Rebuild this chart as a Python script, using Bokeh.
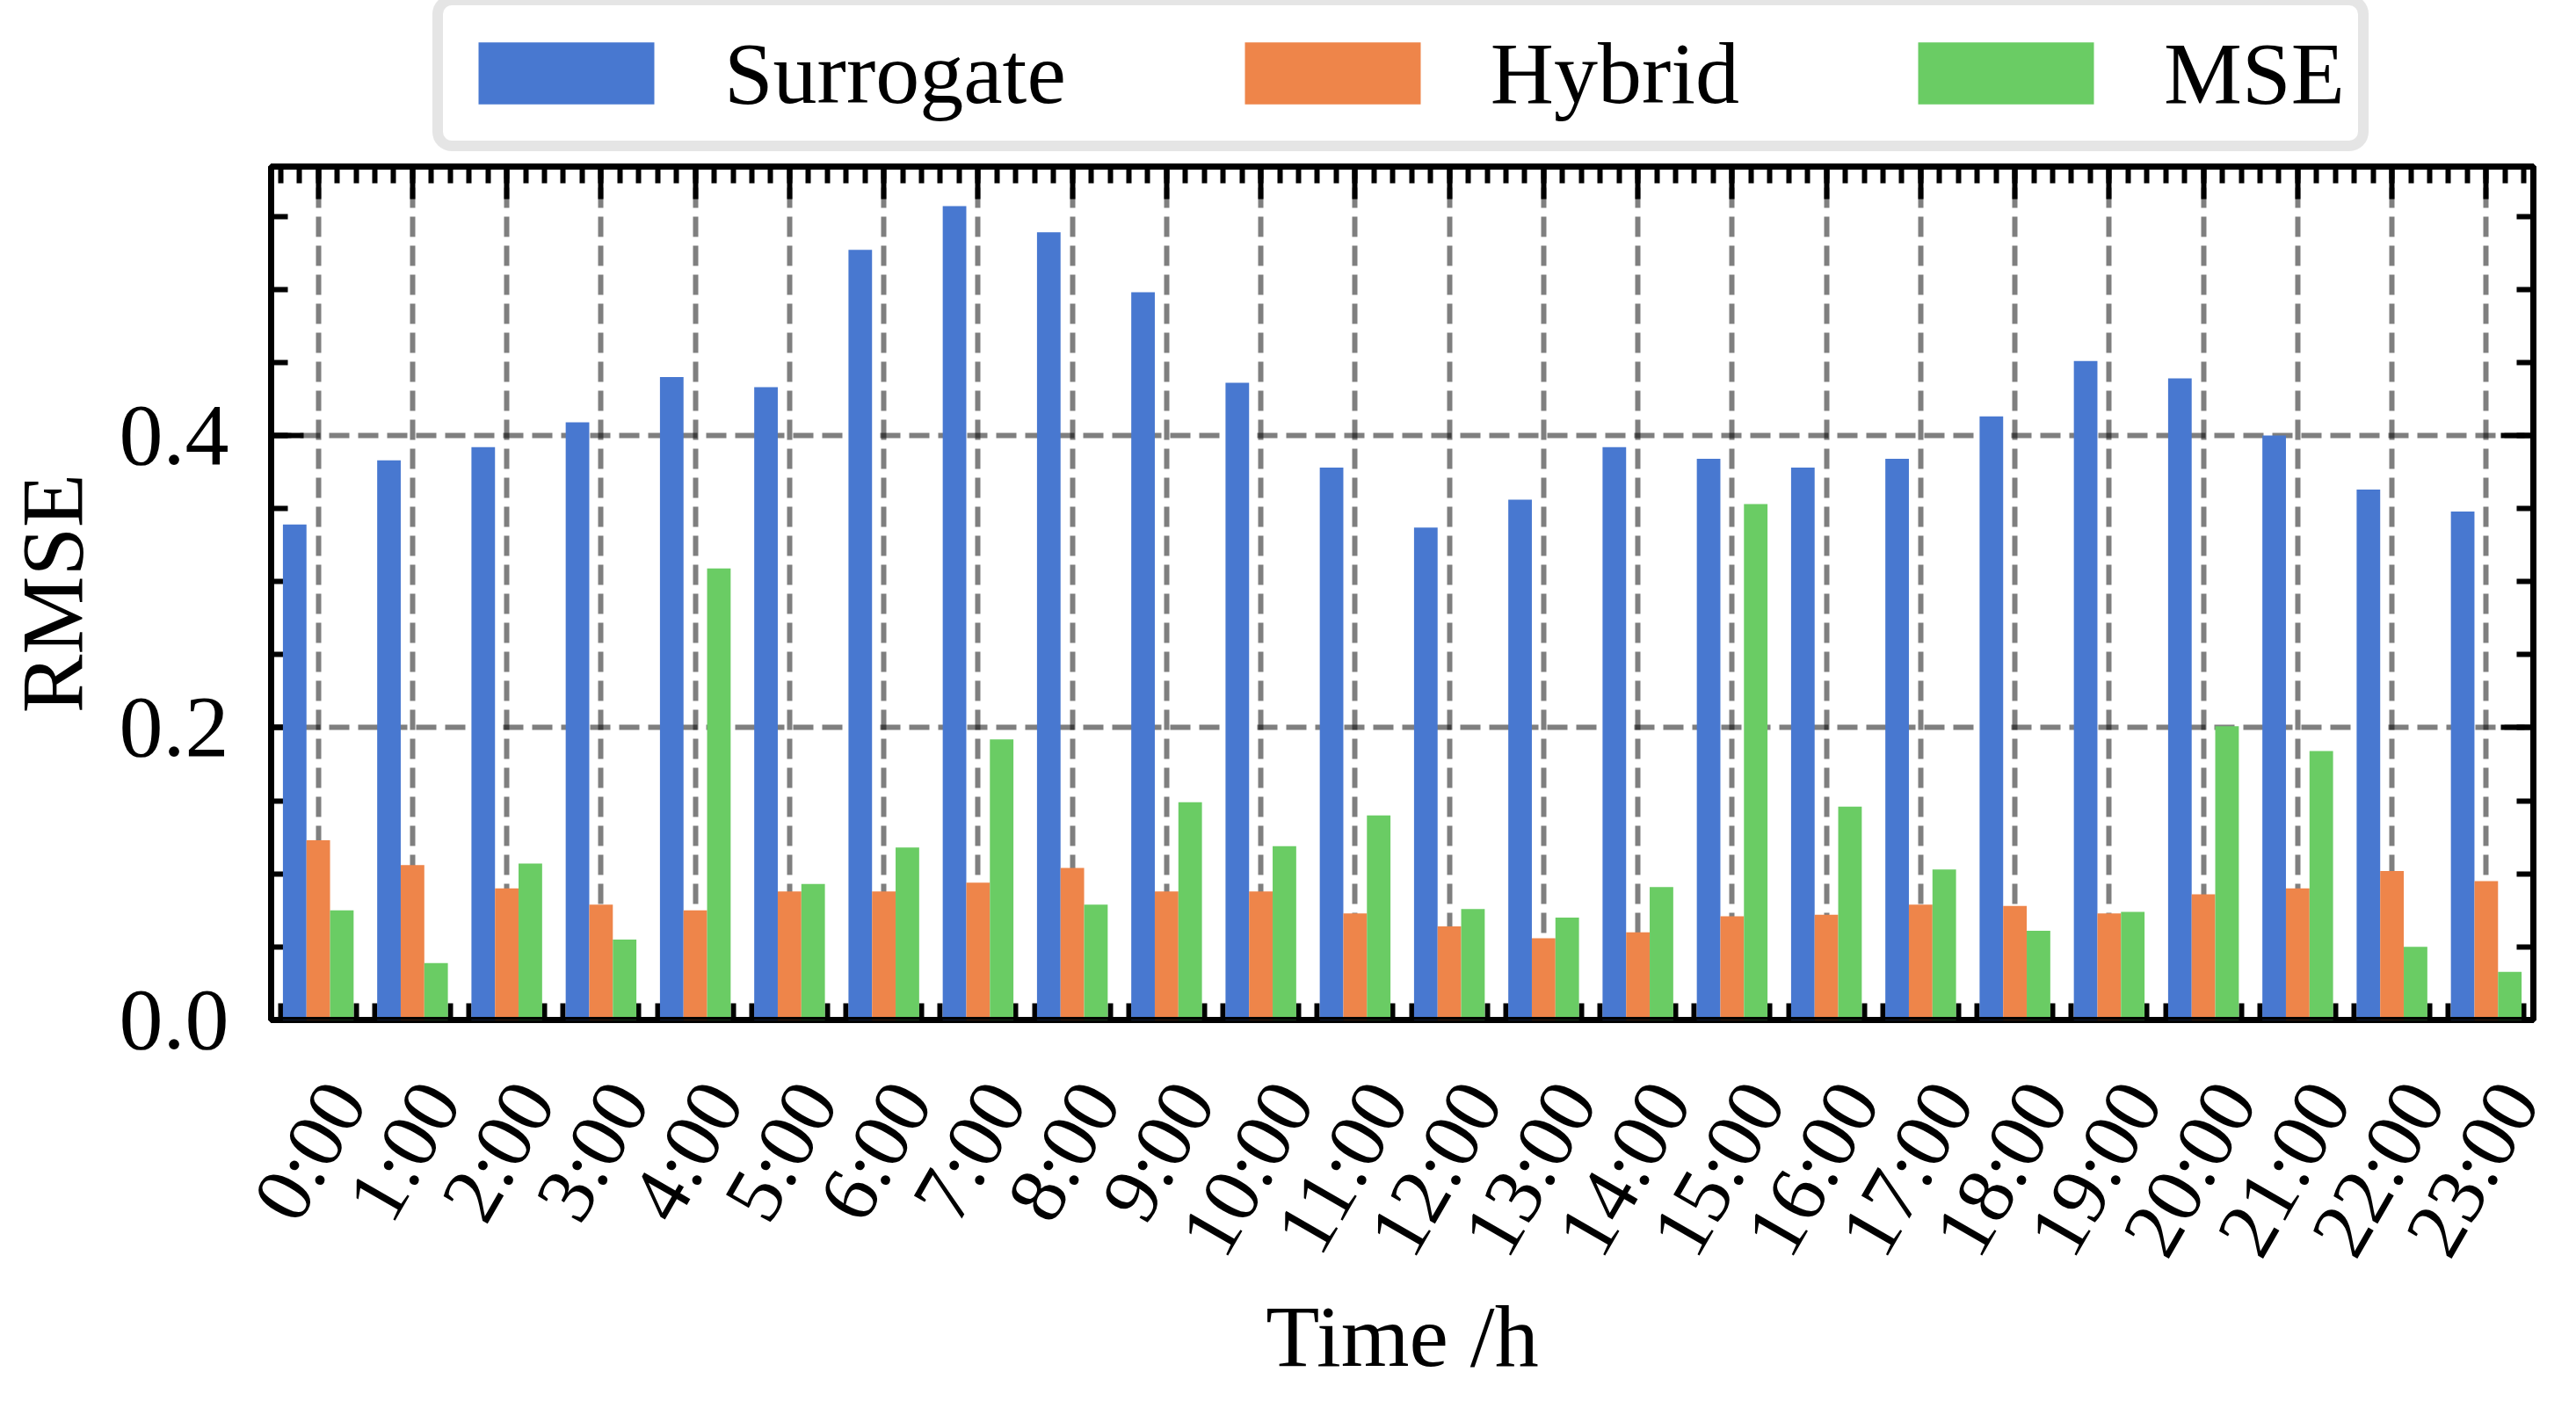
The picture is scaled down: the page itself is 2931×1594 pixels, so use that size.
import math
from bokeh.plotting import figure
from bokeh.layouts import column
from bokeh.models import (Range1d, FixedTicker, LinearAxis, Legend, LegendItem,
                          ColumnDataSource, CustomJSTickFormatter, Span)
from bokeh.transform import dodge
from bokeh.embed import file_html
from bokeh.resources import INLINE

# ---------------- data ----------------
hours = [f"{h}:00" for h in range(24)]
surrogate = [0.339, 0.383, 0.392, 0.409, 0.440, 0.433, 0.527, 0.557, 0.539, 0.498,
             0.436, 0.378, 0.337, 0.356, 0.392, 0.384, 0.378, 0.384, 0.413, 0.451,
             0.439, 0.400, 0.363, 0.348]
hybrid = [0.123, 0.106, 0.090, 0.079, 0.075, 0.088, 0.088, 0.094, 0.104, 0.088,
          0.088, 0.073, 0.064, 0.056, 0.060, 0.071, 0.072, 0.079, 0.078, 0.073,
          0.086, 0.090, 0.102, 0.095]
mse = [0.075, 0.039, 0.107, 0.055, 0.309, 0.093, 0.118, 0.192, 0.079, 0.149,
       0.119, 0.140, 0.076, 0.070, 0.091, 0.353, 0.146, 0.103, 0.061, 0.074,
       0.201, 0.184, 0.050, 0.033]
series_names = ["Surrogate", "Hybrid", "MSE"]
y_ticks = [0, 0.2, 0.4]
y_tick_labels = ["0.0", "0.2", "0.4"]

# ---------------- style ----------------
FONT = "Liberation Serif"
COLORS = ["#4878D0", "#EE854A", "#6ACC64"]
BAR_W = 0.25
GRID_KW = dict(grid_line_color="black", grid_line_alpha=0.5, grid_line_width=6,
               grid_line_dash="23 10")
TOTAL_W, TOTAL_H, LEGEND_H = 2915, 1578, 180
FIELDS = ["s", "h", "m"]
OFFSETS = [-BAR_W, 0.0, BAR_W]

x = list(range(24))
src = ColumnDataSource(dict(x=x, s=surrogate, h=hybrid, m=mse))

p = figure(width=TOTAL_W, height=TOTAL_H - LEGEND_H,
           x_range=Range1d(-0.5, 23.5), y_range=Range1d(0, 0.584),
           output_backend="svg", toolbar_location=None,
           min_border_left=302, min_border_right=33,
           min_border_top=9, min_border_bottom=416)
p.background_fill_color = "white"
p.border_fill_color = "white"
p.outline_line_color = "black"
p.outline_line_width = 7

for field, off, col in zip(FIELDS, OFFSETS, COLORS):
    p.vbar(x=dodge("x", off), top=field, width=BAR_W, source=src,
           fill_color=col, line_color=None, level="annotation")

# bottom spine drawn above the bars (as in the reference)
p.add_layout(Span(location=0, dimension="width", line_color="black",
                  line_width=7, level="overlay"))

minor_x = [round(-0.4 + 0.2 * k, 1) for k in range(120)]
minor_x = [v for v in minor_x if -0.5 < v < 23.5]
minor_y = [round(0.05 * k, 2) for k in range(1, 12)]

def style_axis(ax, major_in, minor_in):
    ax.axis_line_width = 7
    ax.major_tick_in = major_in
    ax.major_tick_out = 0
    ax.minor_tick_in = minor_in
    ax.minor_tick_out = 0
    ax.major_tick_line_width = 6
    ax.minor_tick_line_width = 6
    ax.major_label_text_color = "black"
    ax.axis_label_text_color = "black"

# bottom axis: rotated labels anchored a little right of each hour so that the
# rotated text is centred on the hour like the reference; ticks are minor ticks
xb = p.below[0]
label_pos = [round(i + (0.29 if len(lab) == 4 else 0.34), 2) for i, lab in zip(x, hours)]
xb.ticker = FixedTicker(ticks=label_pos, minor_ticks=minor_x + x)
xb.major_label_overrides = {pos: lab for pos, lab in zip(label_pos, hours)}
style_axis(xb, 0, 19)
xb.major_tick_line_color = None
xb.major_label_orientation = math.pi / 3
xb.major_label_standoff = 78
xb.major_label_text_font = FONT
xb.major_label_text_font_size = "92px"
xb.axis_label = "Time /h"
xb.axis_label_text_font = FONT
xb.axis_label_text_font_size = "100px"
xb.axis_label_text_font_style = "normal"
xb.axis_label_standoff = -9

# left axis
yl = p.left[0]
yl.ticker = FixedTicker(ticks=y_ticks, minor_ticks=minor_y)
yl.major_label_overrides = {t: lab for t, lab in zip(y_ticks, y_tick_labels)}
style_axis(yl, 37, 19)
yl.major_label_standoff = 48
yl.major_label_text_font = FONT
yl.major_label_text_font_size = "100px"
yl.axis_label = "RMSE"
yl.axis_label_text_font = FONT
yl.axis_label_text_font_size = "100px"
yl.axis_label_text_font_style = "normal"
yl.axis_label_standoff = 18

blank = CustomJSTickFormatter(code="return ''")
top = LinearAxis(ticker=FixedTicker(ticks=x, minor_ticks=minor_x), formatter=blank,
                 major_label_standoff=0)
style_axis(top, 37, 19)
p.add_layout(top, "above")
right = LinearAxis(ticker=FixedTicker(ticks=y_ticks, minor_ticks=minor_y), formatter=blank,
                   major_label_standoff=0)
style_axis(right, 37, 19)
p.add_layout(right, "right")

p.xgrid.ticker = FixedTicker(ticks=x)
for g in (p.xgrid, p.ygrid):
    for k, v in GRID_KW.items():
        setattr(g, k, v)

# ---------------- legend strip above the plot ----------------
# same bars, drawn into a y-range far above the data so only their legend swatches show
lf = figure(width=TOTAL_W, height=LEGEND_H, x_range=Range1d(-0.5, 23.5), y_range=Range1d(10, 11),
            output_backend="svg", toolbar_location=None,
            min_border_left=302, min_border_right=33, min_border_top=0, min_border_bottom=0,
            x_axis_location=None, y_axis_location=None)
lf.outline_line_color = None
lf.grid.visible = False
lf.border_fill_color = "white"
proxies = [lf.vbar(x=dodge("x", off), top=field, width=BAR_W, source=src,
                   fill_color=col, line_color=None)
           for field, off, col in zip(FIELDS, OFFSETS, COLORS)]

legend = Legend(items=[LegendItem(label=n, renderers=[r]) for n, r in zip(series_names, proxies)],
                orientation="horizontal", location=(184, 8),
                glyph_width=250, glyph_height=88, label_standoff=55, spacing=178,
                label_height=124, padding=15, margin=0,
                border_line_color="#cccccc", border_line_width=12,
                background_fill_color="white", background_fill_alpha=1.0,
                label_text_font=FONT, label_text_font_size="100px",
                label_text_color="black")
if "border_radius" in Legend.properties():
    legend.border_radius = 22
lf.add_layout(legend, "center")

layout = column(lf, p, spacing=0)
open("out.html", "w").write(file_html(layout, INLINE))
